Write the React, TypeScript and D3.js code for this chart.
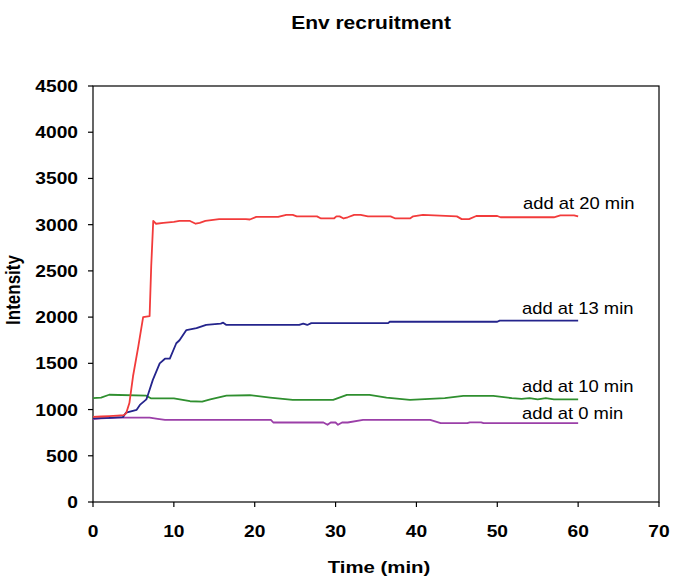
import React from "react";
import * as d3 from "d3";

const xTicks = [0, 10, 20, 30, 40, 50, 60, 70];
const yTicks = [0, 500, 1000, 1500, 2000, 2500, 3000, 3500, 4000, 4500];

const redT = [0, 1, 2, 3, 3.8, 4.1, 4.5, 4.95, 5.6, 6.2, 7.0, 7.2, 7.45, 7.8, 8.7, 10, 10.7, 12, 12.7, 13.2, 13.9, 15.6, 18.9, 19.4, 20.2, 22.9, 23.9, 24.7, 25.2, 27.7, 28.2, 29.8, 30.1, 30.5, 31, 31.5, 32.3, 33.1, 34, 36.8, 37.4, 39.2, 39.6, 40.8, 42.2, 45, 45.6, 46.5, 47.4, 50, 50.4, 57, 57.8, 59.5, 60];
const redV = [920, 925, 930, 935, 940, 960, 1070, 1360, 1680, 2000, 2010, 2550, 3040, 3010, 3020, 3030, 3040, 3040, 3010, 3020, 3040, 3060, 3060, 3056, 3084, 3084, 3106, 3106, 3090, 3090, 3067, 3067, 3090, 3090, 3067, 3080, 3106, 3106, 3090, 3090, 3067, 3067, 3090, 3106, 3100, 3090, 3060, 3060, 3094, 3094, 3080, 3080, 3100, 3100, 3090];

const blueT = [0, 2, 3.7, 4.1, 5.4, 5.8, 6.6, 6.8, 7.4, 8.25, 8.9, 9.5, 10.3, 10.7, 11.55, 12.8, 14.0, 15.8, 16.1, 16.5, 25.5, 26, 26.5, 27, 36.5, 36.7, 50, 50.3, 60];
const blueV = [905, 910, 918, 968, 997, 1050, 1110, 1160, 1321, 1500, 1550, 1550, 1717, 1750, 1860, 1880, 1917, 1930, 1940, 1915, 1915, 1930, 1915, 1935, 1935, 1950, 1950, 1962, 1962];

const greenT = [0, 1, 2, 6.6, 7.2, 10, 12, 13.5, 14.5, 16.5, 19.4, 21.9, 24.7, 29.7, 31.4, 34.2, 36.3, 39.2, 43.5, 45.8, 49.5, 51.8, 53, 54, 55, 56, 57, 60];
const greenV = [1123, 1130, 1160, 1150, 1120, 1120, 1090, 1086, 1110, 1150, 1155, 1130, 1105, 1105, 1159, 1159, 1130, 1105, 1123, 1147, 1147, 1123, 1115, 1123, 1110, 1123, 1110, 1110];

const purpleT = [0, 1, 3, 7, 8, 8.9, 22, 22.3, 28.5, 29, 29.4, 30, 30.3, 30.8, 31.5, 33.4, 41.7, 43, 46.3, 46.6, 48, 48.3, 60];
const purpleV = [896, 905, 913, 913, 900, 888, 889, 860, 860, 835, 860, 860, 835, 860, 860, 889, 889, 853, 853, 862, 862, 853, 853];

const seriesNames = ["add at 20 min", "add at 13 min", "add at 10 min", "add at 0 min"];

const FONT = "'Liberation Sans', Arial, sans-serif";
const SX = 1.2;

function T({ x, y, children, size, weight = "normal", anchor = "start", rotate = 0, sx = SX }: any) {
  return (
    <text
      transform={`translate(${x},${y}) scale(${sx},1) rotate(${rotate})`}
      fontFamily={FONT}
      fontSize={size}
      fontWeight={weight}
      textAnchor={anchor}
      fill="#000"
    >
      {children}
    </text>
  );
}

export default function App() {
  const W = 685, H = 586;
  const x = d3.scaleLinear().domain([0, 70]).range([93, 659]);
  const y = d3.scaleLinear().domain([0, 4500]).range([502, 86]);
  const line = d3.line<[number, number]>().x(d => x(d[0])).y(d => y(d[1]));
  const zip = (t: number[], v: number[]) => t.map((ti, i) => [ti, v[i]] as [number, number]);

  const series = [
    { t: purpleT, v: purpleV, color: "#9b3fa8" },
    { t: greenT, v: greenV, color: "#2f8f2f" },
    { t: blueT, v: blueV, color: "#24248c" },
    { t: redT, v: redV, color: "#f23b3b" },
  ];

  const labelPos = [
    { x: 523, y: 209 },
    { x: 522, y: 314 },
    { x: 522, y: 392 },
    { x: 522, y: 419 },
  ];

  return (
    <svg width={W} height={H} style={{ position: "absolute", left: 0, top: 0, background: "#fff" }}>
      <rect x={0} y={0} width={W} height={H} fill="#fff" />
      <T x={371} y={29} size={17.5} weight="bold" anchor="middle">Env recruitment</T>
      <rect x={x(0)} y={y(4500)} width={x(70) - x(0)} height={y(0) - y(4500)} fill="none" stroke="#000" strokeWidth={1.2} />
      {yTicks.map(v => (
        <g key={"y" + v}>
          <line x1={x(0) - 5} x2={x(0)} y1={y(v)} y2={y(v)} stroke="#000" strokeWidth={1.2} />
          <T x={78} y={y(v) + 6} size={16} weight="bold" anchor="end">{v}</T>
        </g>
      ))}
      {xTicks.map(v => (
        <g key={"x" + v}>
          <line x1={x(v)} x2={x(v)} y1={y(0)} y2={y(0) + 5} stroke="#000" strokeWidth={1.2} />
          <T x={x(v)} y={537} size={16} weight="bold" anchor="middle">{v}</T>
        </g>
      ))}
      <T x={379} y={573} size={17} weight="bold" anchor="middle">Time (min)</T>
      <T x={20} y={290} size={17} weight="bold" anchor="middle" rotate={-90}>Intensity</T>
      {series.map((s, i) => (
        <path key={i} d={line(zip(s.t, s.v)) || ""} fill="none" stroke={s.color} strokeWidth={1.8} strokeLinejoin="round" />
      ))}
      {seriesNames.map((n, i) => (
        <T key={n} x={labelPos[i].x} y={labelPos[i].y} size={16} sx={1.15}>{n}</T>
      ))}
    </svg>
  );
}
